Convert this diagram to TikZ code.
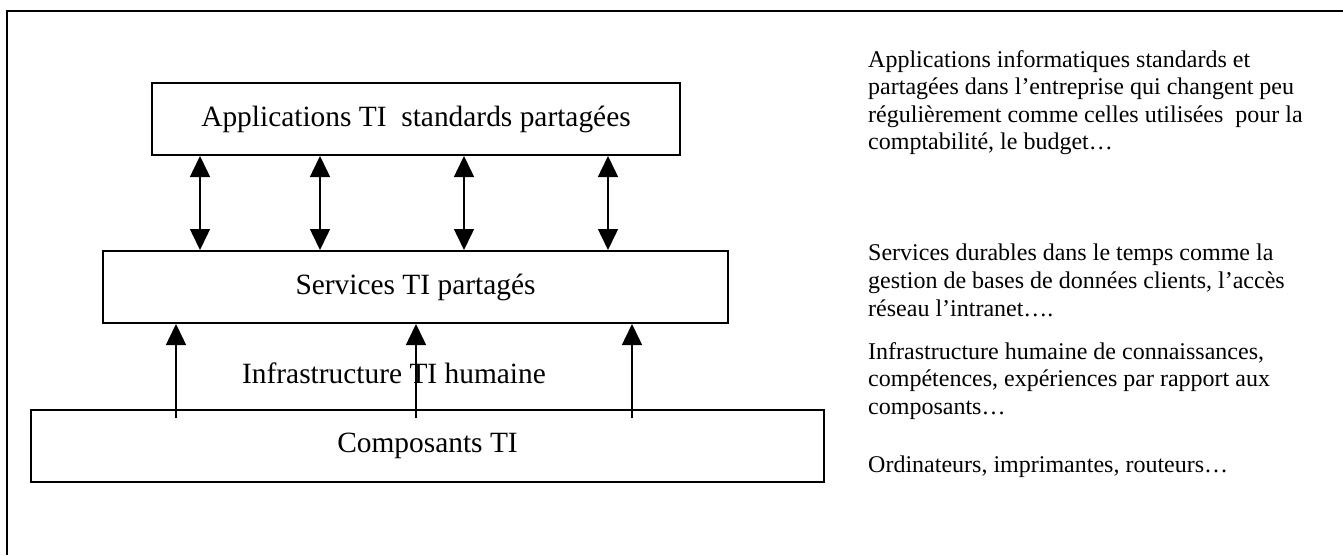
\documentclass[tikz,border=0pt]{standalone}
\usepackage{fontspec}
\setmainfont{Liberation Serif}
\usetikzlibrary{arrows.meta}

\begin{document}
\begin{tikzpicture}[x=1pt, y=-1pt,
    >={Triangle[width=20pt,length=21pt]},
    layer/.style={draw, line width=2pt, minimum height=72pt, inner sep=0pt,
        font=\fontsize{29.4}{34}\selectfont},
    big/.style={font=\fontsize{29.4}{34}\selectfont},
    link/.style={line width=1.5pt},
    note/.style={anchor=north west, align=left, inner sep=0pt,
        font=\fontsize{24}{27.6}\selectfont}]
    \useasboundingbox (0,0) rectangle (1343,555);

    % Frame, open towards right and bottom
    \draw[line width=2pt] (7,555) -- (7,11) -- (1343,11);

    % Layers
    \node[layer, minimum width=528pt] (apps) at (416,119) {Applications TI \ standards partagées};
    \node[layer, minimum width=625pt] (services) at (415.5,287) {Services TI partagés};
    \node[layer, minimum width=793pt] (composants) at (427.5,446) {Composants TI};
    \node[big] (humaine) at (394,373) {Infrastructure TI humaine};

    % Applications <-> services
    \foreach \x in {200,320,464,608}
        \draw[link, <->] (apps.south -| \x,0) -- (services.north -| \x,0);

    % Components -> services
    \foreach \x in {176,416,632}
        \draw[link, ->] (composants.north -| \x,0) ++(0,9) -- (services.south -| \x,0);

    % Notes on the right
    \node[note] (noteApps) at (868,50) {Applications informatiques standards et\\partagées dans l’entreprise qui changent peu\\régulièrement comme celles utilisées \ pour la\\comptabilité, le budget…};
    \node[note] (noteServices) at (868,244) {Services durables dans le temps comme la\\gestion de bases de données clients, l’accès\\réseau l’intranet….};
    \node[note] (noteHumaine) at (868,342) {Infrastructure humaine de connaissances,\\compétences, expériences par rapport aux\\composants…};
    \node[note] (noteComposants) at (868,456) {Ordinateurs, imprimantes, routeurs…};
\end{tikzpicture}
\end{document}
